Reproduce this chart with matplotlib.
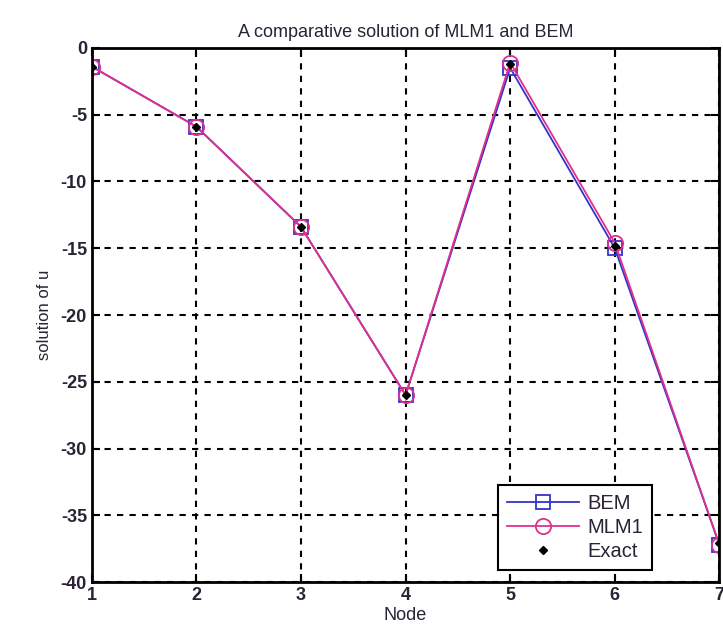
import numpy as np
import matplotlib.pyplot as plt

plt.rcParams['font.family'] = ['Liberation Sans', 'DejaVu Sans']
plt.rcParams['axes.unicode_minus'] = False

nodes = [1, 2, 3, 4, 5, 6, 7]
bem = [-1.4, -5.9, -13.4, -26.0, -1.5, -15.0, -37.2]
mlm1 = [-1.4, -5.9, -13.4, -26.0, -1.1, -14.6, -37.2]
exact = [-1.4, -5.9, -13.4, -26.0, -1.2, -14.8, -37.1]

txt = '#2a2235'

fig = plt.figure(figsize=(7.23, 6.3), dpi=100)
ax = fig.add_axes([0.127, 0.076, 0.868, 0.848])

ax.plot(nodes, bem, '-s', color='#3333cc', markersize=10, markerfacecolor='none',
        markeredgewidth=1.3, linewidth=1.3, label='BEM')
ax.plot(nodes, mlm1, '-o', color='#e0308c', markersize=11, markerfacecolor='none',
        markeredgewidth=1.3, linewidth=1.3, label='MLM1')
ax.plot(nodes, exact, 'D', color='black', markersize=4, linestyle='none', label='Exact')

ax.set_xlim(1, 7)
ax.set_ylim(-40, 0)
ax.set_xticks(nodes)
ax.set_yticks(np.arange(-40, 1, 5))
ax.grid(True, color='black', linestyle=(0, (3, 3)), linewidth=1.5)
ax.tick_params(direction='in', length=6, width=1.5, labelsize=13, colors='black',
               labelcolor=txt, top=True, right=True)
for lab in ax.get_xticklabels() + ax.get_yticklabels():
    lab.set_fontweight('bold')
for s in ax.spines.values():
    s.set_linewidth(2)

ax.set_title('A comparative solution of MLM1 and BEM', fontsize=13, color=txt, pad=8)
ax.set_xlabel('Node', fontsize=13, color=txt, labelpad=2)
ax.set_ylabel('solution of u', fontsize=12, color=txt, labelpad=6)

leg = ax.legend(loc='lower right', bbox_to_anchor=(0.893, 0.022), borderaxespad=0,
                fontsize=14.5, fancybox=False, framealpha=1, edgecolor='black',
                handlelength=3.6, borderpad=0.45, labelspacing=0.25, handletextpad=0.4)
leg.get_frame().set_linewidth(1.5)
for t in leg.get_texts():
    t.set_color(txt)

plt.savefig('out.png', dpi=100)
